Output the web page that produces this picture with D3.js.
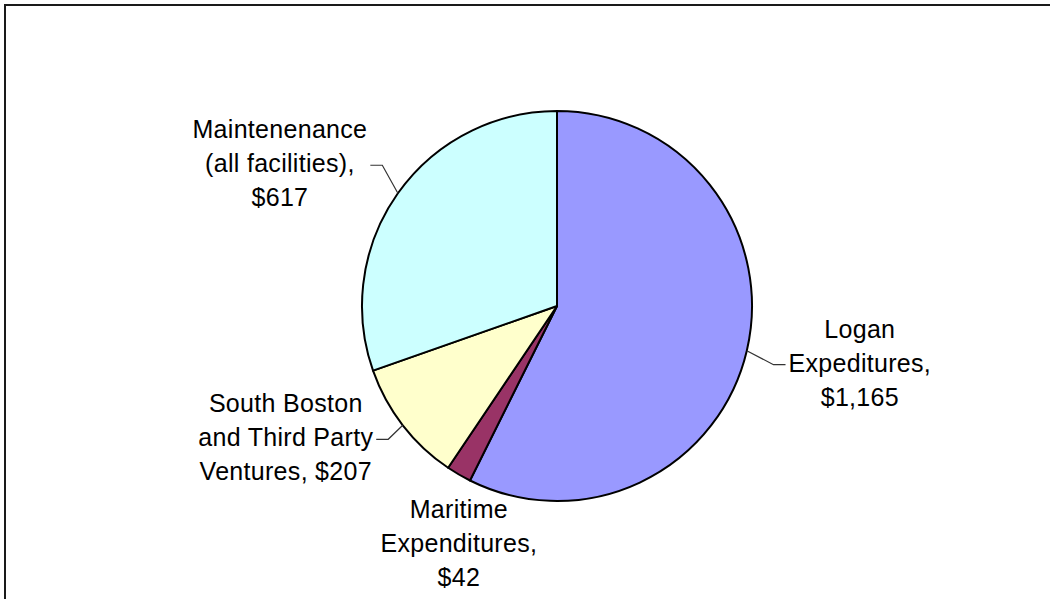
<!DOCTYPE html>
<html>
<head>
<meta charset="utf-8">
<script src="https://cdn.jsdelivr.net/npm/d3@7"></script>
<style>
  body { margin: 0; background: white; }
  text { font-family: "Liberation Sans", Arial, sans-serif; letter-spacing: 0.3px; }
</style>
</head>
<body>
<div id="chart"></div>
<script>
const categories = ["Logan Expeditures", "Maritime Expenditures", "South Boston and Third Party Ventures", "Maintenenance (all facilities)"];
const values = [1165, 42, 207, 617];
const labelLines = [
  ["Logan", "Expeditures,", "$1,165"],
  ["Maritime", "Expenditures,", "$42"],
  ["South Boston", "and Third Party", "Ventures, $207"],
  ["Maintenenance", "(all facilities),", "$617"]
];
const colors = ["#9999FF", "#993366", "#FFFFCC", "#CCFFFF"];

// label placement relative to the slice's point on the rim (dx, dy of the middle line)
const labelOffsets = [
  {dx: 113, dy: 21, leader: true},
  {dx: 0, dy: 78, leader: false},
  {dx: -117, dy: 21, leader: true},
  {dx: -118, dy: -21, leader: true}
];

const Width = 1050;
const Height = 599;
const CenterX = 557;
const CenterY = 306;
const Radius = 195;
const FontSize = 25;
const LineGap = 34;

const svg = d3.select("#chart").append("svg").attr("width", Width).attr("height", Height);

// chart area border (runs past the right/bottom edge)
svg.append("rect")
  .attr("x", 5).attr("y", 5)
  .attr("width", 1200).attr("height", 800)
  .attr("fill", "white")
  .attr("stroke", "#1a1a1a")
  .attr("stroke-width", 2);

const data = categories.map((c, i) => ({name: c, value: values[i], lines: labelLines[i], color: colors[i], off: labelOffsets[i]}));

const pie = d3.pie().sort(null).value(d => d.value);
const arc = d3.arc().innerRadius(0).outerRadius(Radius);
const arcs = pie(data);

const g = svg.append("g").attr("transform", `translate(${CenterX},${CenterY})`);

g.selectAll("path.slice")
  .data(arcs)
  .enter()
  .append("path")
  .attr("class", "slice")
  .attr("d", arc)
  .attr("fill", d => d.data.color)
  .attr("stroke", "black")
  .attr("stroke-width", 2)
  .attr("stroke-linejoin", "round");

// rim point at the slice's middle angle
const rimPoint = d => {
  const a = (d.startAngle + d.endAngle) / 2;
  return [Radius * Math.sin(a), -Radius * Math.cos(a)];
};

const labels = g.selectAll("g.label")
  .data(arcs)
  .enter()
  .append("g")
  .attr("class", "label");

labels.each(function(d) {
  const sel = d3.select(this);
  const p = rimPoint(d);
  const cx = p[0] + d.data.off.dx;
  const midY = p[1] + d.data.off.dy;
  const txt = sel.append("text")
    .attr("text-anchor", "middle")
    .attr("font-size", FontSize)
    .attr("fill", "black");
  d.data.lines.forEach((l, i) => {
    txt.append("tspan")
      .attr("x", cx)
      .attr("y", midY + (i - 1) * LineGap)
      .text(l);
  });

  if (d.data.off.leader) {
    let maxW = 0;
    txt.selectAll("tspan").each(function() { maxW = Math.max(maxW, this.getComputedTextLength()); });
    const side = d.data.off.dx > 0 ? -1 : 1;
    const edgeX = cx + side * (maxW / 2 + 3);
    const ly = midY - 7;
    const elbowX = edgeX + side * 12;
    sel.insert("polyline", "text")
      .attr("points", `${edgeX},${ly} ${elbowX},${ly} ${p[0]},${p[1]}`)
      .attr("fill", "none")
      .attr("stroke", "#333")
      .attr("stroke-width", 1.2);
  }
});
</script>
</body>
</html>
